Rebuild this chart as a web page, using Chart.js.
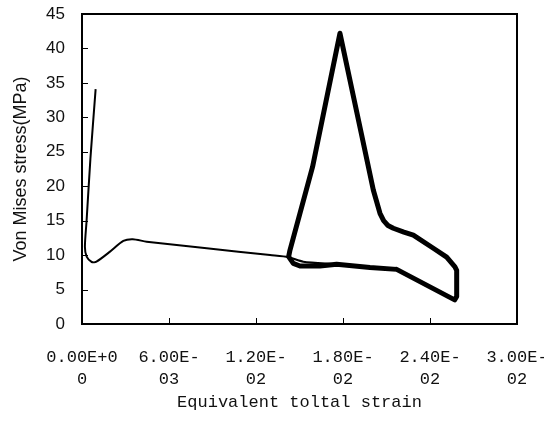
<!DOCTYPE html>
<html>
<head>
<meta charset="utf-8">
<script src="https://cdn.jsdelivr.net/npm/chart.js@4"></script>
<style>
  html, body { margin: 0; padding: 0; background: #fff; }
  #wrap { width: 544px; height: 426px; }
</style>
</head>
<body>
<div id="wrap"><canvas id="chart" width="544" height="426"></canvas></div>
<script>
// Data
const xTickStep = 0.006;
const xTickLabels = [['0.00E+0', '0'], ['6.00E-', '03'], ['1.20E-', '02'], ['1.80E-', '02'], ['2.40E-', '02'], ['3.00E-', '02']];

// thin curve: first loading
const thinStrain = [0.00094, 0.00058, 0.00032, 0.0002, 0.00032, 0.00067, 0.001, 0.00193, 0.00285, 0.0035, 0.00446, 0.0086, 0.01297, 0.01423, 0.01526, 0.01756, 0.01986, 0.0217];
const thinStress = [34.1, 24, 15.1, 11.2, 9.77, 9.0, 9.05, 10.5, 12.05, 12.3, 11.95, 11.0, 10.0, 9.7, 9.05, 8.66, 8.2, 7.93];

// thick loop
const loopStrain = [0.0217, 0.0257, 0.02584, 0.02584, 0.02572, 0.02515, 0.02423, 0.02285, 0.0222, 0.02147, 0.0211, 0.0208, 0.02055, 0.02009, 0.01926, 0.01779, 0.0159, 0.01434, 0.01425, 0.01457, 0.01503, 0.01641, 0.01756, 0.01986, 0.0217];
const loopStress = [7.93, 3.5, 4.0, 7.8, 8.3, 9.7, 11.0, 12.9, 13.35, 13.9, 14.3, 15.0, 16.07, 19.45, 27.7, 42.2, 22.8, 10.7, 9.77, 8.8, 8.42, 8.42, 8.66, 8.2, 7.93];

const toPoints = (xs, ys) => xs.map((x, i) => ({ x, y: ys[i] }));

/* ---------- frame + inward tick marks ---------- */
const framePlugin = {
  id: 'frame',
  afterDatasetsDraw(chart) {
    const { ctx, chartArea: a, scales: { x, y } } = chart;
    ctx.save();
    ctx.strokeStyle = '#000';
    ctx.lineWidth = 1;
    ctx.beginPath();
    x.ticks.forEach((t) => {
      const px = Math.round(x.getPixelForValue(t.value)) + 0.5;
      if (px < a.left + 2 || px > a.right - 2) return;
      ctx.moveTo(px, a.bottom); ctx.lineTo(px, a.bottom - 6);
    });
    y.ticks.forEach((t) => {
      const py = Math.round(y.getPixelForValue(t.value)) + 0.5;
      if (py < a.top + 2 || py > a.bottom - 2) return;
      ctx.moveTo(a.left, py); ctx.lineTo(a.left + 6, py);
    });
    ctx.stroke();
    ctx.lineWidth = 2;
    ctx.strokeRect(a.left, a.top, a.right - a.left, a.bottom - a.top);
    ctx.restore();
  }
};

new Chart(document.getElementById('chart').getContext('2d'), {
  type: 'scatter',
  data: {
    datasets: [
      { data: toPoints(thinStrain, thinStress), showLine: true, borderColor: '#000', borderWidth: 2, pointRadius: 0, tension: 0.25, borderJoinStyle: 'round' },
      { data: toPoints(loopStrain, loopStress), showLine: true, borderColor: '#000', borderWidth: 5, pointRadius: 0, tension: 0, borderJoinStyle: 'round', borderCapStyle: 'round' }
    ]
  },
  options: {
    responsive: false,
    animation: false,
    layout: { padding: { top: 14, right: 27, bottom: 0, left: 0 } },
    plugins: { legend: { display: false }, tooltip: { enabled: false } },
    scales: {
      x: {
        type: 'linear', min: 0, max: 0.03,
        grid: { display: false, drawTicks: false },
        border: { display: false },
        ticks: {
          stepSize: xTickStep, padding: 22, maxRotation: 0, autoSkip: false, color: '#111',
          font: { family: '"Liberation Mono", monospace', size: 17, lineHeight: 22 / 17 },
          callback: (v) => xTickLabels[Math.round(v / xTickStep)]
        },
        title: {
          display: true, text: 'Equivalent toltal strain', color: '#111',
          font: { family: '"Liberation Mono", monospace', size: 17 },
          padding: { top: 0, bottom: 13 }
        },
        afterFit: (s) => { s.height = 102; s.paddingLeft = 0; s.paddingRight = 0; s.paddingTop = 0; s.paddingBottom = 0; }
      },
      y: {
        type: 'linear', min: 0, max: 45,
        grid: { display: false, drawTicks: false },
        border: { display: false },
        ticks: {
          stepSize: 5, padding: 17, color: '#111',
          font: { family: '"Liberation Sans", Arial, sans-serif', size: 17 }
        },
        title: {
          display: true, text: 'Von Mises stress(MPa)', color: '#111',
          font: { family: '"Liberation Sans", Arial, sans-serif', size: 18 },
          padding: { top: 10, bottom: 0 }
        },
        afterFit: (s) => { s.width = 82; s.paddingTop = 0; s.paddingBottom = 0; s.paddingLeft = 0; s.paddingRight = 0; }
      }
    }
  },
  plugins: [framePlugin]
});
</script>
</body>
</html>
